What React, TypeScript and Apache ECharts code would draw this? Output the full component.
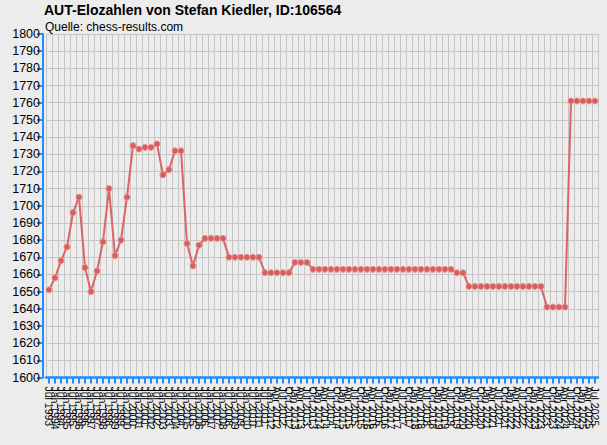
import { useEffect, useRef } from 'react'
import * as echarts from 'echarts'

// Rating periods (semi-annual lists until Jan 2012, quarterly afterwards)
const periods = [
  'Jul 1993', 'Jan 1994', 'Jul 1994', 'Jan 1995', 'Jul 1995', 'Jan 1996', 'Jul 1996', 'Jan 1997',
  'Jul 1997', 'Jan 1998', 'Jul 1998', 'Jan 1999', 'Jul 1999', 'Jan 2000', 'Jul 2000', 'Jan 2001',
  'Jul 2001', 'Jan 2002', 'Jul 2002', 'Jan 2003', 'Jul 2003', 'Jan 2004', 'Jul 2004', 'Jan 2005',
  'Jul 2005', 'Jan 2006', 'Jul 2006', 'Jan 2007', 'Jul 2007', 'Jan 2008', 'Jul 2008', 'Jan 2009',
  'Jul 2009', 'Jan 2010', 'Jul 2010', 'Jan 2011', 'Jul 2011', 'Jan 2012',
  'Apr 2012', 'Jul 2012', 'Oct 2012', 'Jan 2013', 'Apr 2013', 'Jul 2013', 'Oct 2013',
  'Jan 2014', 'Apr 2014', 'Jul 2014', 'Oct 2014', 'Jan 2015', 'Apr 2015', 'Jul 2015', 'Oct 2015',
  'Jan 2016', 'Apr 2016', 'Jul 2016', 'Oct 2016', 'Jan 2017', 'Apr 2017', 'Jul 2017', 'Oct 2017',
  'Jan 2018', 'Apr 2018', 'Jul 2018', 'Oct 2018', 'Jan 2019', 'Apr 2019', 'Jul 2019', 'Oct 2019',
  'Jan 2020', 'Apr 2020', 'Jul 2020', 'Oct 2020', 'Jan 2021', 'Apr 2021', 'Jul 2021', 'Oct 2021',
  'Jan 2022', 'Apr 2022', 'Jul 2022', 'Oct 2022', 'Jan 2023', 'Apr 2023', 'Jul 2023', 'Oct 2023',
  'Jan 2024', 'Apr 2024', 'Jul 2024', 'Oct 2024', 'Jan 2025', 'Apr 2025', 'Jul 2025'
]

const elo = [
  1651, 1658, 1668, 1676, 1696, 1705, 1664, 1650, 1662, 1679, 1710, 1671, 1680,
  1705, 1735, 1733, 1734, 1734, 1736, 1718, 1721, 1732, 1732, 1678, 1665, 1677,
  1681, 1681, 1681, 1681,
  1670, 1670, 1670, 1670, 1670, 1670,
  1661, 1661, 1661, 1661, 1661,
  1667, 1667, 1667,
  1663, 1663, 1663, 1663, 1663, 1663, 1663, 1663, 1663, 1663, 1663, 1663,
  1663, 1663, 1663, 1663, 1663, 1663, 1663, 1663, 1663, 1663, 1663, 1663,
  1661, 1661,
  1653, 1653, 1653, 1653, 1653, 1653, 1653, 1653, 1653, 1653, 1653, 1653, 1653,
  1641, 1641, 1641, 1641,
  1761, 1761, 1761, 1761, 1761
]

const yMin = 1600
const yMax = 1800
const yStep = 10

const titleText = 'AUT-Elozahlen von Stefan Kiedler, ID:106564'
const sourceText = 'Quelle: chess-results.com'

const font = "'Liberation Sans', Arial, sans-serif"
const axisBlue = '#1e8fff'

export default function App() {
  const chartRef = useRef<HTMLDivElement>(null)

  useEffect(() => {
    if (!chartRef.current) return
    const chart = echarts.init(chartRef.current, null, { renderer: 'svg' })

    chart.setOption({
      animation: false,
      backgroundColor: '#ececec',
      title: [
        {
          text: titleText,
          left: 44,
          top: 3,
          padding: 0,
          textStyle: { fontFamily: font, fontSize: 14, fontWeight: 'bold', color: '#000' }
        },
        {
          text: sourceText,
          left: 45,
          top: 21,
          padding: 0,
          textStyle: { fontFamily: font, fontSize: 12, fontWeight: 'normal', color: '#000' }
        }
      ],
      grid: { left: 46, right: 9, top: 34, bottom: 67.5, containLabel: false },
      xAxis: {
        type: 'category',
        data: periods,
        boundaryGap: true,
        axisLine: { show: true, lineStyle: { color: axisBlue, width: 2.5 } },
        axisTick: { show: true, alignWithLabel: true, interval: 0, length: 6, lineStyle: { color: axisBlue, width: 2 } },
        axisLabel: {
          interval: 0,
          rotate: -90,
          margin: 9,
          fontFamily: font,
          fontSize: 10.5,
          color: '#000'
        },
        splitLine: { show: true, interval: 0, lineStyle: { color: '#c6c6c6', width: 1 } }
      },
      yAxis: {
        type: 'value',
        min: yMin,
        max: yMax,
        interval: yStep,
        offset: 3,
        axisLine: { show: true, lineStyle: { color: axisBlue, width: 2 } },
        axisTick: { show: true, length: 6, lineStyle: { color: axisBlue, width: 2 } },
        axisLabel: {
          fontFamily: font,
          fontSize: 12.5,
          color: '#000',
          margin: 3,
          formatter: (v: number) => String(v)
        },
        splitLine: { show: true, lineStyle: { color: '#c6c6c6', width: 1 } }
      },
      series: [
        {
          type: 'line',
          data: elo,
          symbol: 'circle',
          symbolSize: 6,
          lineStyle: { color: '#dc6464', width: 2 },
          itemStyle: { color: '#d85e5e', borderColor: 'rgba(235,140,140,0.9)', borderWidth: 1 }
        }
      ]
    })

    return () => chart.dispose()
  }, [])

  return (
    <div
      ref={chartRef}
      style={{ position: 'fixed', left: 0, top: 0, width: 607, height: 445, background: '#ececec' }}
    />
  )
}
